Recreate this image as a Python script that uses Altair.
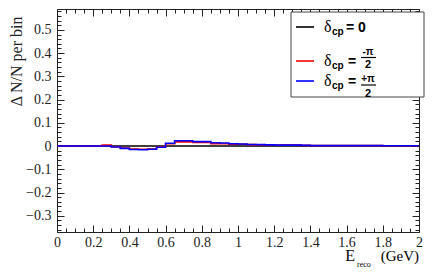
import altair as alt
import pandas as pd

# ---- data ----
bin_edges = [round(0.05 * i, 2) for i in range(41)]
vals_black = [0.0] * 40
vals_red = [0, 0, 0, 0, 0, 0.004, -0.003, -0.009, -0.013, -0.014,
            -0.013, -0.004, 0.010, 0.018, 0.018, 0.016, 0.015, 0.010, 0.010, 0.008,
            0.008, 0.006, 0.005, 0.005, 0.004, 0.004, 0.004, 0.003, 0.002, 0.002,
            0.002, 0.002, 0.002, 0.002, 0.002, 0.002, 0.001, 0.001, 0.001, 0.001]
vals_blue = [0, 0, 0, 0, 0, 0, -0.004, -0.010, -0.015, -0.016,
             -0.014, -0.005, 0.012, 0.023, 0.023, 0.019, 0.019, 0.014, 0.013, 0.010,
             0.009, 0.007, 0.006, 0.005, 0.004, 0.004, 0.004, 0.003, 0.002, 0.002,
             0.002, 0.002, 0.002, 0.002, 0.002, 0.002, 0.001, 0.001, 0.001, 0.001]

x_major = [0, 0.2, 0.4, 0.6, 0.8, 1, 1.2, 1.4, 1.6, 1.8, 2]
x_all = [round(0.05 * i, 2) for i in range(41)]
y_major = [-0.3, -0.2, -0.1, 0, 0.1, 0.2, 0.3, 0.4, 0.5]
y_all = [round(-0.36 + 0.02 * i, 2) for i in range(48)]


def hist_df(vals):
    return pd.DataFrame({"x": bin_edges, "y": list(vals) + [vals[-1]]})


W, H = 362, 223
SERIF = "'Liberation Serif', 'Times New Roman', serif"
SANS = "'Liberation Sans', Arial, sans-serif"

xs = alt.Scale(domain=[0, 2], nice=False, zero=False)
ys = alt.Scale(domain=[-0.37, 0.59], nice=False, zero=False)

tx = "abs(datum.value*5 - round(datum.value*5)) < 0.001"
ty = "abs(datum.value*10 - round(datum.value*10)) < 0.001"

common = dict(title=None, grid=False, domain=False)

ax_x_lab = alt.Axis(values=x_major, format="~g", ticks=False, labelFont=SERIF,
                    labelFontSize=14, labelPadding=3, labelColor="#222",
                    labelFlush=False, labelOverlap=False, **common)
ax_x_bot = alt.Axis(orient="top", offset=-H, values=x_all, labels=False,
                    tickColor="#222",
                    tickSize={"condition": {"test": tx, "value": 7}, "value": 4},
                    **common)
ax_x_top = alt.Axis(orient="bottom", offset=-H, values=x_all, labels=False,
                    tickColor="#222",
                    tickSize={"condition": {"test": tx, "value": 7}, "value": 4},
                    **common)

ax_y_lab = alt.Axis(values=y_major, format="~g", ticks=False, labelFont=SERIF,
                    labelFontSize=14, labelPadding=6, labelColor="#222",
                    labelFlush=False, labelOverlap=False,
                    title="Δ N/N per bin", titleFont=SERIF, titleFontSize=16,
                    titleFontWeight="normal", titleColor="#222",
                    titleX=-41, titleY=7, titleAngle=270, titleAlign="right",
                    titleBaseline="middle", grid=False, domain=False)
ax_y_left = alt.Axis(orient="right", offset=-W, values=y_all, labels=False,
                     tickColor="#222",
                     tickSize={"condition": {"test": ty, "value": 7}, "value": 4},
                     **common)
ax_y_right = alt.Axis(orient="left", offset=-W, values=y_all, labels=False,
                      tickColor="#222",
                      tickSize={"condition": {"test": ty, "value": 7}, "value": 4},
                      **common)


def line_layer(vals, color, xaxis, yaxis, sw=1.6):
    return alt.Chart(hist_df(vals)).mark_line(
        interpolate="step-after", color=color, strokeWidth=sw
    ).encode(
        x=alt.X("x:Q", scale=xs, axis=xaxis),
        y=alt.Y("y:Q", scale=ys, axis=yaxis),
    )


l_black = line_layer(vals_black, "black", ax_x_lab, ax_y_lab)
l_red = line_layer(vals_red, "#ff0000", ax_x_bot, ax_y_left)
l_blue = line_layer(vals_blue, "#0000ff", ax_x_top, ax_y_right)

dummy = pd.DataFrame({"a": [0]})


def txt(s, x, y, font=SANS, size=13, weight="bold", align="left"):
    return alt.Chart(dummy).mark_text(
        text=s, font=font, fontSize=size, fontWeight=weight, align=align,
        baseline="alphabetic", color="black"
    ).encode(x=alt.value(x), y=alt.value(y))


def rule(x1, x2, y, color, sw=1.6):
    return alt.Chart(dummy).mark_rule(color=color, strokeWidth=sw).encode(
        x=alt.value(x1), x2=alt.value(x2), y=alt.value(y))


box = alt.Chart(dummy).mark_rect(fill="white", stroke="#444", strokeWidth=1).encode(
    x=alt.value(234), x2=alt.value(367), y=alt.value(3), y2=alt.value(88))

legend_layers = [box,
                 rule(239, 257, 18, "black"),
                 txt("δ", 267, 23, font=SERIF, size=16, weight="normal"),
                 txt("cp", 275, 26, size=10),
                 txt("= 0", 289, 23, size=14),
                 rule(239, 257, 52, "#ff0000"),
                 txt("δ", 267, 57, font=SERIF, size=16, weight="normal"),
                 txt("cp", 275, 60, size=10),
                 txt("=", 291, 57, size=14),
                 txt("-π", 311, 46, size=10, align="center"),
                 rule(304, 319, 48.5, "black", 1.2),
                 txt("2", 311, 59, size=11, align="center"),
                 rule(239, 257, 72, "#0000ff"),
                 txt("δ", 267, 77, font=SERIF, size=16, weight="normal"),
                 txt("cp", 275, 80, size=10),
                 txt("=", 291, 77, size=14),
                 txt("+π", 311, 73, size=10, align="center"),
                 rule(304, 319, 76, "black", 1.2),
                 txt("2", 311, 88, size=11, align="center"),
                 ]

xtitle = [txt("E", 298, 252, font=SERIF, size=16, weight="normal", align="right"),
          txt("reco", 300, 258, font=SERIF, size=8, weight="normal"),
          txt("(GeV)", 362, 252, font=SERIF, size=15, weight="normal", align="right")]

chart = alt.layer(l_black, l_red, l_blue, *legend_layers, *xtitle).resolve_axis(
    x="independent", y="independent"
).properties(
    width=W, height=H,
    autosize=alt.AutoSizeParams(type="none"),
    padding={"left": 49, "top": 1, "right": 15, "bottom": 45},
).configure_view(stroke="#222", strokeWidth=1)

chart.save("out.html", embed_options={"renderer": "svg", "actions": False})
